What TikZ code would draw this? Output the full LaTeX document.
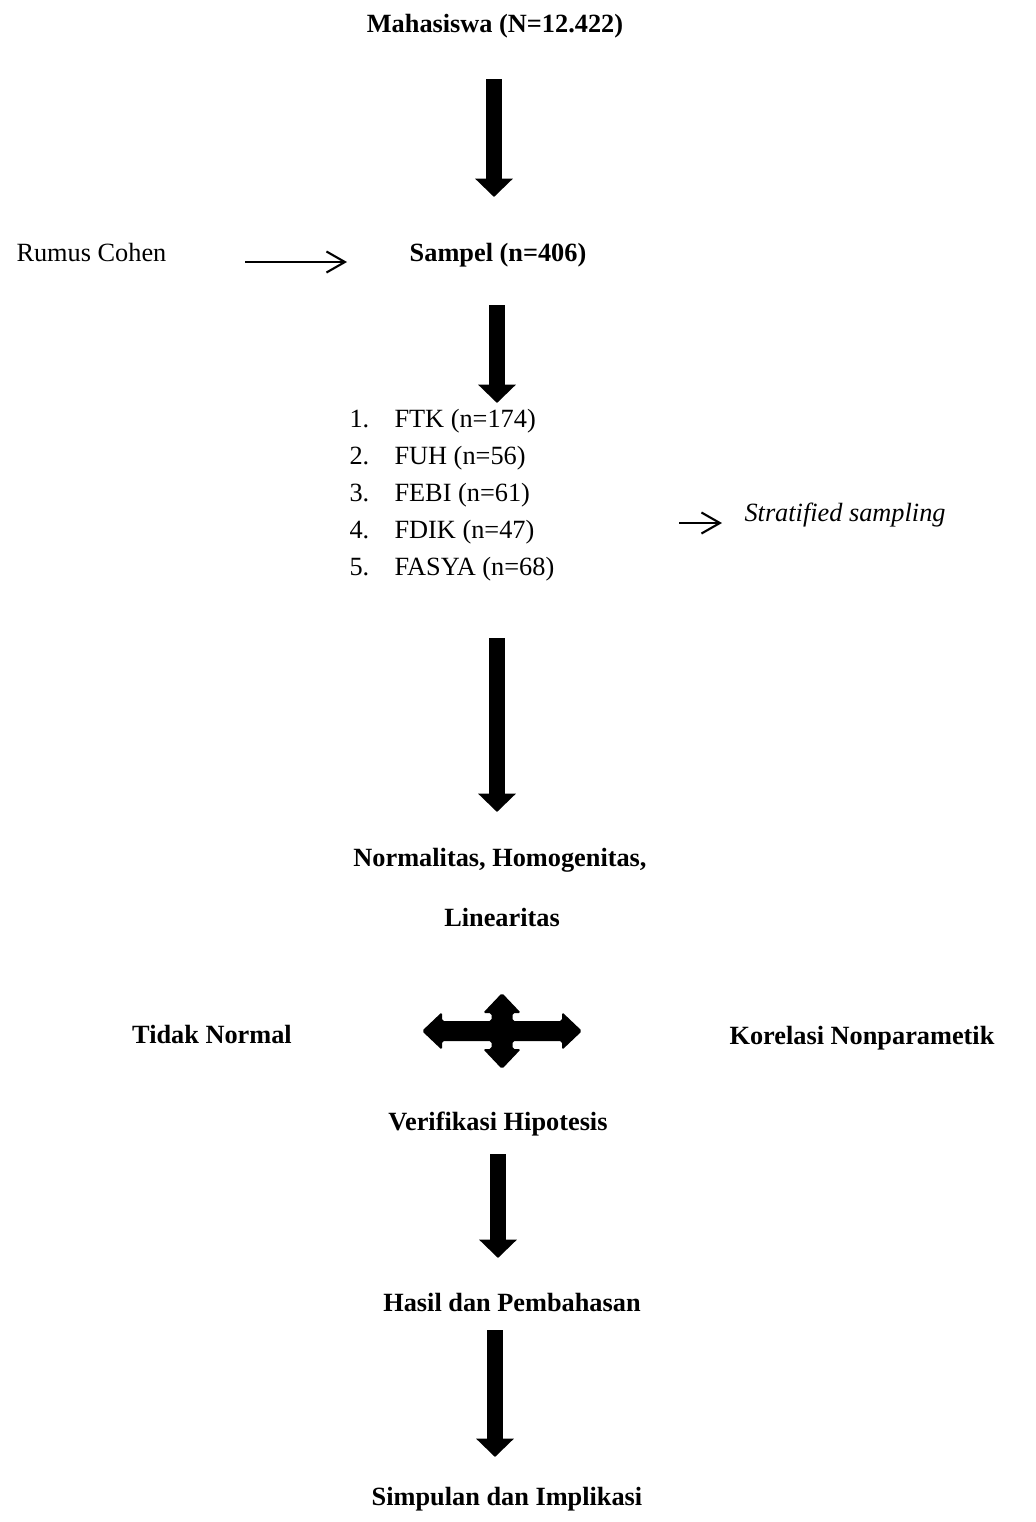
\documentclass[tikz,border=0pt]{standalone}
\usepackage{fontspec}
\setmainfont{Liberation Serif}
\usetikzlibrary{arrows.meta}

\begin{document}
\begin{tikzpicture}[line join=miter,x=0.38pt,y=-0.38pt,
		bigarrow/.style={line width=6.3pt,-{Triangle[width=14pt,length=7pt]}},
		thinarrow/.style={line width=0.8pt,-{Straight Barb[length=7pt,width=8pt]}},
		lbl/.style={inner sep=0pt,anchor=base,font=\bfseries},
		item/.style={inner sep=0pt,anchor=base west}]
		\useasboundingbox (0,0) rectangle (1036,1522);
		\node[lbl] (mhs) at (495,32) {Mahasiswa (N=12.422)};
		\coordinate (a1s) at (494,79);
		\coordinate (a1e) at (494,197);
		\draw[bigarrow] (a1s) -- (a1e);
		\node[item] (cohen) at (16,261) {Rumus Cohen};
		\node[lbl] (smp) at (498,261) {Sampel (n=406)};
		\coordinate (c1s) at (245,262);
		\coordinate (c1e) at (347,262);
		\draw[thinarrow] (c1s) -- (c1e);
		\coordinate (a2s) at (497,305);
		\coordinate (a2e) at (497,403);
		\draw[bigarrow] (a2s) -- (a2e);
		% daftar fakultas
		\node[item] (no1) at (349,427) {1.};
		\node[item] (fak1) at (394,427) {FTK (n=174)};
		\node[item] (no2) at (349,464) {2.};
		\node[item] (fak2) at (394,464) {FUH (n=56)};
		\node[item] (no3) at (349,501) {3.};
		\node[item] (fak3) at (394,501) {FEBI (n=61)};
		\node[item] (no4) at (349,538) {4.};
		\node[item] (fak4) at (394,538) {FDIK (n=47)};
		\node[item] (no5) at (349,575) {5.};
		\node[item] (fak5) at (394,575) {FASYA (n=68)};
		\coordinate (c2s) at (679,523);
		\coordinate (c2e) at (722,523);
		\draw[thinarrow] (c2s) -- (c2e);
		\node[item,font=\itshape] (strat) at (744,521) {Stratified sampling};
		\coordinate (a3s) at (497,638);
		\coordinate (a3e) at (497,812);
		\draw[bigarrow] (a3s) -- (a3e);
		\node[lbl] (uji) at (500,866) {Normalitas, Homogenitas,};
		\node[lbl] (lin) at (502,926) {Linearitas};
		\node[lbl] (tdk) at (212,1043) {Tidak Normal};
		\node[lbl] (kor) at (862,1044) {Korelasi Nonparametik};
		% panah empat arah
		\fill[rounded corners=0.7pt,shift={(502,1031)}] (80,0) -- (60,-19) -- (60,-10) -- (10.5,-10)
			-- (10.5,-18) -- (19,-18) -- (0,-38) -- (-19,-18) -- (-10.5,-18) -- (-10.5,-10)
			-- (-60,-10) -- (-60,-19) -- (-80,0) -- (-60,19) -- (-60,10) -- (-10.5,10)
			-- (-10.5,18) -- (-19,18) -- (0,38) -- (19,18) -- (10.5,18) -- (10.5,10)
			-- (60,10) -- (60,19) -- cycle;
		\node[lbl] (ver) at (498,1130) {Verifikasi Hipotesis};
		\coordinate (a4s) at (498,1154);
		\coordinate (a4e) at (498,1258);
		\draw[bigarrow] (a4s) -- (a4e);
		\node[lbl] (hsl) at (512,1311) {Hasil dan Pembahasan};
		\coordinate (a5s) at (495,1330);
		\coordinate (a5e) at (495,1457);
		\draw[bigarrow] (a5s) -- (a5e);
		\node[lbl] (smpl) at (507,1505) {Simpulan dan Implikasi};
	\end{tikzpicture}
\end{document}
